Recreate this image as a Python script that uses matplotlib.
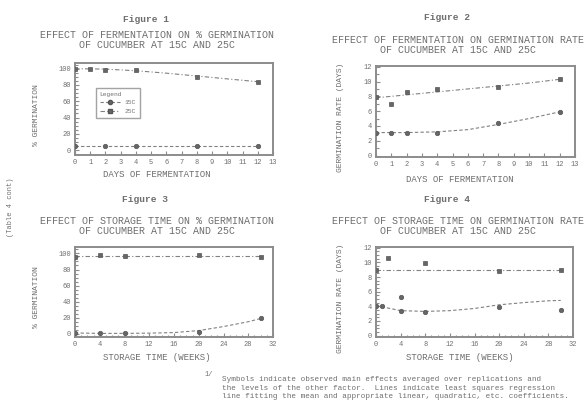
import matplotlib
matplotlib.use("Agg")
import matplotlib.pyplot as plt
from matplotlib.lines import Line2D
from matplotlib.ticker import MultipleLocator

W, H = 585, 412
INK = "#6e6e6e"
FRAME = "#8c8c8c"
DOT = "#666666"
MONO = "Liberation Mono"

# --- Figure 1 : % germination vs days of fermentation ---
f1_days = [0, 1, 2, 4, 8, 12]
f1_hi_obs = [100, 100, 99, 98, 90, 84]
f1_lo_days = [0, 2, 4, 8, 12]
f1_lo_obs = [5, 5, 5, 5, 5]
f1_fit_x = [0, 2, 4, 6, 8, 10, 12]
f1_hi_fit = [100, 99.5, 97.5, 94.5, 91, 87.5, 84]
f1_lo_fit = [5, 5, 5, 5, 5, 5, 5]

# --- Figure 2 : germination rate vs days of fermentation ---
f2_days = [0, 1, 2, 4, 8, 12]
f2_hi_obs = [7.9, 7.0, 8.6, 9.0, 9.2, 10.4]
f2_lo_obs = [3.1, 3.1, 3.1, 3.1, 4.4, 5.9]
f2_fit_x = [0, 2, 4, 6, 8, 10, 12]
f2_hi_fit = [7.8, 8.2, 8.6, 9.0, 9.4, 9.8, 10.3]
f2_lo_fit = [3.1, 3.1, 3.2, 3.5, 4.2, 5.0, 5.9]

# --- Figure 3 : % germination vs storage time ---
f3_weeks = [0, 4, 8, 20, 30]
f3_hi_obs = [96, 98.5, 97, 98.5, 95]
f3_lo_obs = [1.5, 1, 1, 2.5, 20]
f3_fit_x = [0, 4, 8, 12, 16, 20, 24, 28, 30]
f3_hi_fit = [96.5, 96.5, 96.5, 96.5, 96.5, 96.5, 96.5, 96.5, 96.5]
f3_lo_fit = [1, 0.5, 0.5, 0.8, 1.5, 4, 9, 15, 19]

# --- Figure 4 : germination rate vs storage time ---
f4_hi_weeks = [0, 2, 8, 20, 30]
f4_hi_obs = [8.9, 10.6, 9.9, 8.8, 8.9]
f4_lo_weeks = [0, 1, 4, 4, 8, 20, 30]
f4_lo_obs = [4.1, 4.1, 5.3, 3.4, 3.2, 3.9, 3.5]
f4_fit_x = [0, 4, 8, 12, 16, 20, 24, 28, 30]
f4_hi_fit = [8.9, 8.9, 8.9, 8.9, 8.9, 8.9, 8.9, 8.9, 8.9]
f4_lo_fit = [4.1, 3.4, 3.3, 3.4, 3.7, 4.2, 4.5, 4.75, 4.8]

TITLES = [
    ("Figure 1", "EFFECT OF FERMENTATION ON % GERMINATION\nOF CUCUMBER AT 15C AND 25C"),
    ("Figure 2", "EFFECT OF FERMENTATION ON GERMINATION RATE\nOF CUCUMBER AT 15C AND 25C"),
    ("Figure 3", "EFFECT OF STORAGE TIME ON % GERMINATION\nOF CUCUMBER AT 15C AND 25C"),
    ("Figure 4", "EFFECT OF STORAGE TIME ON GERMINATION RATE\nOF CUCUMBER AT 15C AND 25C"),
]
FOOTNOTE = ("Symbols indicate observed main effects averaged over replications and\n"
            "the levels of the other factor.  Lines indicate least squares regression\n"
            "line fitting the mean and appropriate linear, quadratic, etc. coefficients.")

HI_LS = (0, (4, 2, 1, 2))
LO_LS = (0, (3, 2))


def px(x, y):
    return x / W, 1 - y / H


def box(l, t, r, b):
    return [l / W, 1 - b / H, (r - l) / W, (b - t) / H]


def style(ax, xmax, xmajor, xminor, ylim, ymajor, yminor):
    ax.set_xlim(0, xmax)
    ax.set_ylim(*ylim)
    ax.xaxis.set_major_locator(MultipleLocator(xmajor))
    ax.xaxis.set_minor_locator(MultipleLocator(xminor))
    ax.yaxis.set_major_locator(MultipleLocator(ymajor))
    ax.yaxis.set_minor_locator(MultipleLocator(yminor))
    ax.tick_params(which="both", direction="in", colors=FRAME, labelcolor=INK,
                   labelsize=5, width=0.8, pad=3)
    ax.tick_params(which="major", length=3)
    ax.tick_params(which="minor", length=1.8)
    for lab in ax.get_xticklabels() + ax.get_yticklabels():
        lab.set_family(MONO)
    for s in ax.spines.values():
        s.set_color(FRAME)
        s.set_linewidth(1.4)


def series(ax, fx, fy, ox, oy, ls, mk):
    ax.plot(fx, fy, ls=ls, color="#808080", lw=0.8, zorder=2)
    ax.plot(ox, oy, ls="none", marker=mk, ms=3.2, mfc=DOT, mec="#555555",
            mew=0.5, zorder=3)


fig = plt.figure(figsize=(W / 100, H / 100), dpi=100)
fig.patch.set_facecolor("white")

ax1 = fig.add_axes(box(75, 63, 273, 155))
series(ax1, f1_fit_x, f1_hi_fit, f1_days, f1_hi_obs, HI_LS, "s")
series(ax1, f1_fit_x, f1_lo_fit, f1_lo_days, f1_lo_obs, LO_LS, "o")
style(ax1, 13, 1, 1, (-6, 107), 20, 5)
handles = [
    Line2D([], [], ls=LO_LS, color="#808080", lw=0.8, marker="o", ms=3, mfc=DOT, mec="#555555"),
    Line2D([], [], ls=HI_LS, color="#808080", lw=0.8, marker="s", ms=3, mfc=DOT, mec="#555555"),
]
leg = ax1.legend(handles, ["15C", "25C"], title="Legend", loc="upper left",
                 bbox_to_anchor=(0.09, 0.76), frameon=True, fancybox=False,
                 edgecolor=FRAME, prop={"family": MONO, "size": 4.5},
                 title_fontproperties={"family": MONO, "size": 4.5},
                 labelcolor=INK, handlelength=3.2, borderpad=0.6,
                 labelspacing=0.5, alignment="left")
leg.get_title().set_color(INK)
leg.get_frame().set_linewidth(1.0)

ax2 = fig.add_axes(box(376, 66, 575, 157))
series(ax2, f2_fit_x, f2_hi_fit, f2_days, f2_hi_obs, HI_LS, "s")
series(ax2, f2_fit_x, f2_lo_fit, f2_days, f2_lo_obs, LO_LS, "o")
style(ax2, 13, 1, 1, (-0.2, 12.1), 2, 1)

ax3 = fig.add_axes(box(75, 247, 273, 337))
series(ax3, f3_fit_x, f3_hi_fit, f3_weeks, f3_hi_obs, HI_LS, "s")
series(ax3, f3_fit_x, f3_lo_fit, f3_weeks, f3_lo_obs, LO_LS, "o")
style(ax3, 32, 4, 1, (-4, 108), 20, 5)

ax4 = fig.add_axes(box(376, 247, 573, 337))
series(ax4, f4_fit_x, f4_hi_fit, f4_hi_weeks, f4_hi_obs, HI_LS, "s")
series(ax4, f4_fit_x, f4_lo_fit, f4_lo_weeks, f4_lo_obs, LO_LS, "o")
style(ax4, 32, 4, 1, (-0.2, 12.1), 2, 0.5)

# titles, axis labels (placed in page pixels, like the typed sheet)
heads = [(146, 19, 157, 40), (447, 17, 458, 45), (145, 200, 157, 226), (447, 199, 458, 226)]
for (name, sub), (fx, fy, sx, sy) in zip(TITLES, heads):
    fig.text(*px(fx, fy), name, family=MONO, fontsize=6.8, color=INK,
             ha="center", va="center", weight="bold")
    fig.text(*px(sx, sy), sub, family=MONO, fontsize=7.2, color=INK,
             ha="center", va="center", linespacing=0.95)

for x, y, s in [(157, 175, "DAYS OF FERMENTATION"), (460, 180, "DAYS OF FERMENTATION"),
                (157, 357, "STORAGE TIME (WEEKS)"), (460, 357, "STORAGE TIME (WEEKS)")]:
    fig.text(*px(x, y), s, family=MONO, fontsize=6.5, color=INK, ha="center", va="center")

for x, y, s in [(37, 115, "% GERMINATION"), (340, 117, "GERMINATION RATE (DAYS)"),
                (37, 297, "% GERMINATION"), (340, 298, "GERMINATION RATE (DAYS)")]:
    fig.text(*px(x, y), s, family=MONO, fontsize=5.8, color=INK, ha="center",
             va="center", rotation=90)

fig.text(*px(10, 207), "(Table 4 cont)", family=MONO, fontsize=5, color=INK,
         ha="center", va="center", rotation=90)

fig.text(*px(205, 375), "1/", family=MONO, fontsize=5, color=INK, ha="left", va="center")
fig.text(*px(222, 376), FOOTNOTE, family=MONO, fontsize=5.5, color=INK,
         ha="left", va="top", linespacing=1.35)

fig.savefig("out.png", dpi=100, facecolor="white")
